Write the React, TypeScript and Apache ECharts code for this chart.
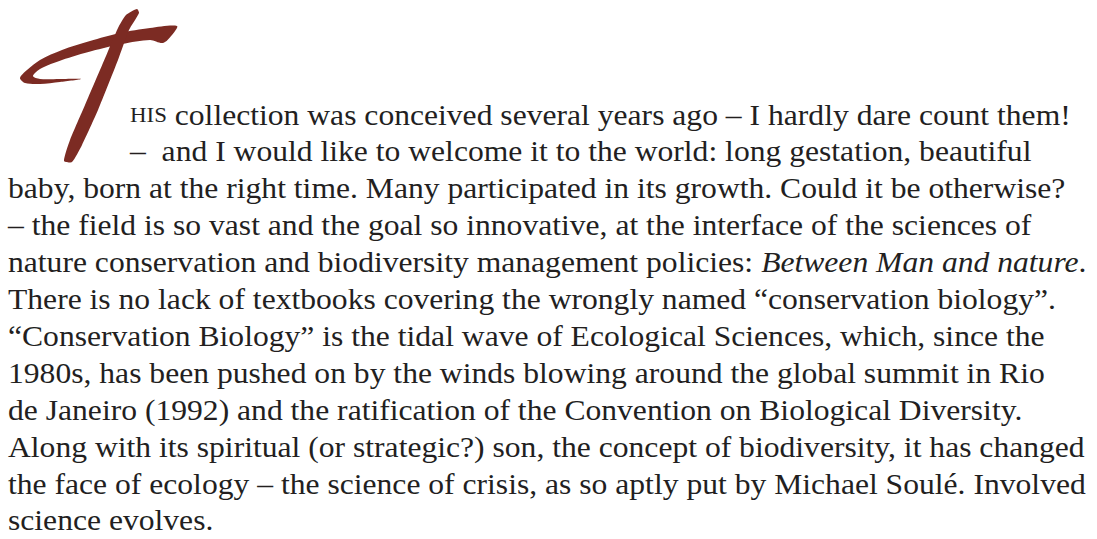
import React, { useEffect, useRef } from "react";
import * as echarts from "echarts";

// Paragraph lines (the first line starts with the small-capital remainder of the drop cap "T")
const smallCapsStart = "HIS";
const firstLineRest = " collection was conceived several years ago – I hardly dare count them!";
const secondLine = "–  and I would like to welcome it to the world: long gestation, beautiful";
const bodyLines = [
  "baby, born at the right time. Many participated in its growth. Could it be otherwise?",
  "– the field is so vast and the goal so innovative, at the interface of the sciences of",
  "__ITALIC__",
  "There is no lack of textbooks covering the wrongly named “conservation biology”.",
  "“Conservation Biology” is the tidal wave of Ecological Sciences, which, since the",
  "1980s, has been pushed on by the winds blowing around the global summit in Rio",
  "de Janeiro (1992) and the ratification of the Convention on Biological Diversity.",
  "Along with its spiritual (or strategic?) son, the concept of biodiversity, it has changed",
  "the face of ecology – the science of crisis, as so aptly put by Michael Soulé. Involved",
  "science evolves.",
];
const italicLinePre = "nature conservation and biodiversity management policies: ";
const italicLineIt = "Between Man and nature";
const italicLinePost = ".";

const FONT_FAMILY = "'Liberation Serif', 'Times New Roman', serif";
const FONT_SIZE = 29;
const STRETCH = 1.09;
const TEXT_COLOR = "#231f1f";
const CAP_COLOR = "#7c2b23";

export default function App() {
  const ref = useRef<HTMLDivElement>(null);
  useEffect(() => {
    if (!ref.current) return;
    const chart = echarts.init(ref.current, undefined, { renderer: "svg" });
    const firstBaseline = 125;
    const lineStep = 36.9;
    const leftX = 8;
    const indentX = 130;
    const mid = (i: number) => firstBaseline + lineStep * i - 10;

    const elements: any[] = [];
    // Drop cap T: crossbar
    elements.push({
      type: "polygon",
      shape: {
        smooth: 0.3,
        points: [
          [177, 26], [150, 28], [120, 33], [90, 41], [62, 50], [40, 60], [27, 70], [20, 78],
          [25, 83], [40, 84], [60, 82], [81, 79], [60, 79], [40, 79], [33, 76], [40, 69],
          [62, 60], [92, 51], [122, 44], [150, 40], [163, 43], [172, 35],
        ],
      },
      style: { fill: CAP_COLOR },
    });
    // Drop cap T: stem
    elements.push({
      type: "polygon",
      shape: {
        smooth: 0.2,
        points: [
          [126, 15], [137, 9], [139, 13], [129, 30], [118, 60], [98, 110], [82, 145], [72, 162],
          [64, 161], [70, 140], [85, 105], [106, 56], [118, 28],
        ],
      },
      style: { fill: CAP_COLOR },
    });

    const plain = { fontFamily: FONT_FAMILY, fontSize: FONT_SIZE, fill: TEXT_COLOR };

    // First line with small caps
    elements.push({
      type: "text",
      x: indentX,
      y: mid(0),
      scaleX: STRETCH,
      style: {
        text: `{sc|${smallCapsStart}}{n|${firstLineRest}}`,
        verticalAlign: "middle",
        rich: {
          sc: { fontFamily: FONT_FAMILY, fontSize: 21, fill: TEXT_COLOR },
          n: plain,
        },
      },
    });
    elements.push({
      type: "text",
      x: indentX,
      y: mid(1),
      scaleX: STRETCH,
      style: { text: secondLine, ...plain, verticalAlign: "middle" },
    });
    bodyLines.forEach((line, k) => {
      const i = k + 2;
      if (line === "__ITALIC__") {
        elements.push({
          type: "text",
          x: leftX,
          y: mid(i),
          scaleX: STRETCH,
          style: {
            text: `{n|${italicLinePre}}{it|${italicLineIt}}{n|${italicLinePost}}`,
            verticalAlign: "middle",
            rich: {
              n: plain,
              it: { ...plain, fontStyle: "italic" },
            },
          },
        });
      } else {
        elements.push({
          type: "text",
          x: leftX,
          y: mid(i),
          scaleX: STRETCH,
          style: { text: line, ...plain, verticalAlign: "middle" },
        });
      }
    });

    chart.setOption({
      animation: false,
      backgroundColor: "#ffffff",
      graphic: { elements },
    });
    return () => chart.dispose();
  }, []);
  return <div ref={ref} style={{ width: 1097, height: 539, position: "absolute", left: 0, top: 0 }} />;
}
